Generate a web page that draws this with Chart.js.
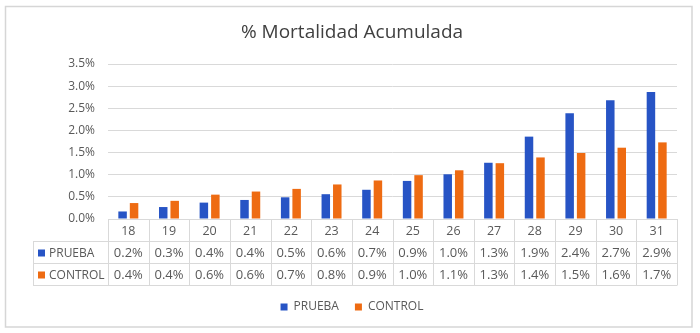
<!DOCTYPE html>
<html>
<head>
<meta charset="utf-8">
<script src="https://cdn.jsdelivr.net/npm/chart.js@4.4.1/dist/chart.umd.min.js"></script>
<style>
  html, body { margin: 0; padding: 0; background: #ffffff; }
  canvas { display: block; }
</style>
</head>
<body>
<canvas id="c" width="700" height="333"></canvas>
<script>
const title = '% Mortalidad Acumulada';
const days = ['18','19','20','21','22','23','24','25','26','27','28','29','30','31'];
const seriesNames = ['PRUEBA', 'CONTROL'];
const prueba  = [0.17, 0.27, 0.37, 0.43, 0.49, 0.56, 0.66, 0.86, 1.01, 1.27, 1.86, 2.39, 2.68, 2.87];
const control = [0.36, 0.41, 0.55, 0.62, 0.68, 0.78, 0.87, 0.99, 1.10, 1.26, 1.39, 1.49, 1.61, 1.73];
const yTicks = [0, 0.5, 1.0, 1.5, 2.0, 2.5, 3.0, 3.5];
const colors = ['#2754C5', '#EE6B12'];

const FONT = "'Open Sans', sans-serif";
const GRID = '#d9d9d9';
const TEXT = '#595959';

const frame = {
  id: 'frame',
  beforeDraw(chart) {
    const ctx = chart.ctx;
    ctx.save();
    ctx.fillStyle = '#ffffff';
    ctx.fillRect(0, 0, chart.width, chart.height);
    ctx.strokeStyle = '#d6d6d6';
    ctx.lineWidth = 1.5;
    ctx.strokeRect(5.5, 6.5, 686.5, 320.5);
    ctx.restore();
  }
};

const dataTable = {
  id: 'dataTable',
  afterDraw(chart) {
    const ctx = chart.ctx;
    const xs = chart.scales.x;
    const a = chart.chartArea;
    const n = days.length;
    const colW = (a.right - a.left) / n;
    const top = a.bottom;
    const rowH = 22;
    const r1 = top + rowH, r2 = r1 + rowH, r3 = r2 + rowH;
    const labelLeft = 33;
    ctx.save();
    ctx.strokeStyle = GRID;
    ctx.lineWidth = 1;
    ctx.beginPath();
    ctx.moveTo(a.left, Math.round(top) + 0.5); ctx.lineTo(a.right, Math.round(top) + 0.5);
    [r1, r2, r3].forEach(y => { ctx.moveTo(labelLeft, Math.round(y) + 0.5); ctx.lineTo(a.right, Math.round(y) + 0.5); });
    for (let i = 0; i <= n; i++) {
      const x = Math.round(a.left + i * colW) + 0.5;
      ctx.moveTo(x, top); ctx.lineTo(x, r3 + 0.5);
    }
    ctx.moveTo(labelLeft + 0.5, r1); ctx.lineTo(labelLeft + 0.5, r3 + 0.5);
    ctx.stroke();

    ctx.fillStyle = TEXT;
    ctx.textAlign = 'center';
    ctx.textBaseline = 'middle';
    const rows = [prueba, control];
    for (let i = 0; i < n; i++) {
      const cx = xs.getPixelForTick(i);
      ctx.font = "12.5px " + FONT;
      ctx.fillText(days[i], cx, top + rowH / 2 + 1.5);
      ctx.font = "13px " + FONT;
      rows.forEach((vals, k) => {
        ctx.fillText(vals[i].toFixed(1) + '%', cx, r1 + k * rowH + rowH / 2 + 1.5);
      });
    }
    ctx.textAlign = 'left';
    ctx.font = "12px " + FONT;
    seriesNames.forEach((name, k) => {
      const cy = r1 + k * rowH + rowH / 2 + 1;
      ctx.fillStyle = colors[k];
      ctx.fillRect(38, cy - 3.5, 7, 7);
      ctx.fillStyle = TEXT;
      ctx.fillText(name, 49, cy + 0.5);
    });
    ctx.restore();
  }
};

new Chart(document.getElementById('c'), {
  type: 'bar',
  data: {
    labels: days,
    datasets: [
      { label: seriesNames[0], data: prueba, backgroundColor: colors[0], categoryPercentage: 0.565, barPercentage: 0.74 },
      { label: seriesNames[1], data: control, backgroundColor: colors[1], categoryPercentage: 0.565, barPercentage: 0.74 }
    ]
  },
  options: {
    responsive: false,
    animation: false,
    devicePixelRatio: 1,
    layout: { padding: { top: 0, left: 27, right: 23, bottom: 10 } },
    plugins: {
      title: {
        display: true,
        text: title,
        color: '#404040',
        font: { family: FONT, size: 19, weight: 'normal', lineHeight: 1.2 },
        padding: { top: 21, bottom: 20.2 }
      },
      legend: {
        position: 'bottom',
        labels: {
          color: TEXT,
          font: { family: FONT, size: 12 },
          boxWidth: 7,
          boxHeight: 7,
          padding: 16
        }
      },
      tooltip: { enabled: false }
    },
    scales: {
      x: {
        grid: { display: false },
        border: { display: false },
        ticks: { display: false },
        afterFit(scale) { scale.height = 66; }
      },
      y: {
        min: 0,
        max: 3.5,
        afterBuildTicks(scale) { scale.ticks = yTicks.map(v => ({ value: v })); },
        ticks: {
          color: TEXT,
          font: { family: FONT, size: 12 },
          padding: 13,
          callback: v => Number(v).toFixed(1) + '%'
        },
        grid: { color: GRID, drawTicks: false },
        border: { display: false },
        afterFit(scale) { scale.width = 81; }
      }
    }
  },
  plugins: [frame, dataTable]
});
</script>
</body>
</html>
